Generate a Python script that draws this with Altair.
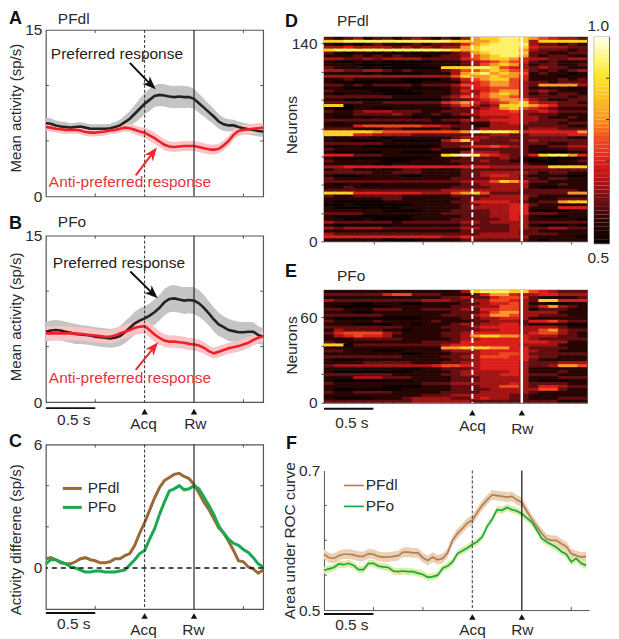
import altair as alt
import pandas as pd

FONT = "Liberation Sans"
t_ac = [-1.0,-.95,-.9,-.85,-.8,-.75,-.7,-.65,-.6,-.55,-.5,-.45,-.4,-.35,-.3,-.25,-.2,-.15,-.1,-.05,0,.05,.1,.15,.2,.25,.3,.35,.4,.45,.5,.55,.6,.65,.7,.75,.8,.85,.9,.95,1.0,1.05,1.1,1.15,1.2]
t_f = [-1.5,-1.45,-1.4,-1.35,-1.3,-1.25,-1.2,-1.15,-1.1,-1.05]+t_ac[:-1]

a_pref = [6.6,6.55,6.4,6.3,6.25,6.2,6.25,6.3,6.2,6.1,6.1,6.1,6.1,6.15,6.25,6.4,6.7,7.0,7.45,7.9,8.35,8.7,9.05,9.15,9.1,9.0,8.95,9.0,8.95,8.95,8.8,8.4,8.0,7.6,7.2,6.75,6.5,6.4,6.4,6.25,6.15,6.05,6.0,5.9,5.85]
a_anti = [6.25,6.2,6.1,6.05,6.0,6.0,6.0,5.95,5.8,5.75,5.75,5.8,5.85,5.95,6.0,6.1,6.2,6.15,6.0,5.85,5.75,5.5,5.25,4.95,4.65,4.5,4.45,4.5,4.55,4.55,4.55,4.45,4.35,4.25,4.2,4.3,4.6,5.0,5.55,5.9,6.0,6.05,6.1,6.15,6.2]
a_pref_err = [.5,.5,.45,.45,.45,.4,.4,.4,.4,.4,.4,.4,.4,.4,.45,.5,.6,.7,.8,.9,.95,1.0,1.0,1.0,1.0,1.0,1.0,1.0,1.0,.95,.9,.85,.8,.75,.7,.65,.6,.55,.5,.5,.5,.5,.5,.5,.5]
a_anti_err = [.35,.35,.35,.35,.35,.35,.35,.35,.35,.35,.35,.35,.35,.35,.35,.35,.35,.35,.4,.4,.45,.5,.5,.5,.5,.45,.45,.45,.45,.45,.45,.45,.45,.45,.45,.45,.45,.45,.45,.45,.45,.45,.45,.45,.45]
b_pref = [6.35,6.45,6.5,6.45,6.35,6.25,6.15,6.1,6.05,6.0,5.9,5.85,5.8,5.75,5.8,5.95,6.3,6.7,7.1,7.35,7.55,7.8,8.1,8.5,9.0,9.3,9.35,9.25,9.15,9.2,9.15,8.9,8.5,8.0,7.45,7.0,6.75,6.5,6.4,6.3,6.3,6.35,6.35,6.05,5.9]
b_anti = [6.2,6.2,6.2,6.2,6.2,6.2,6.15,6.15,6.1,6.05,6.0,5.95,5.9,5.9,6.0,6.2,6.35,6.5,6.7,6.8,6.85,6.5,6.1,5.8,5.55,5.45,5.45,5.4,5.35,5.25,5.2,5.1,4.9,4.6,4.4,4.55,4.7,4.85,4.95,5.05,5.2,5.35,5.6,5.8,5.95]
b_pref_err = [.9,.9,.9,.9,.9,.9,.9,.85,.85,.85,.85,.85,.85,.85,.85,.9,1.0,1.0,1.05,1.1,1.1,1.1,1.15,1.15,1.2,1.2,1.2,1.2,1.2,1.2,1.2,1.2,1.15,1.1,1.1,1.05,1.0,1.0,.95,.95,.9,.9,.85,.8,.75]
b_anti_err = [.65,.65,.65,.65,.65,.65,.6,.6,.6,.6,.6,.6,.6,.6,.6,.6,.6,.65,.65,.65,.65,.65,.65,.6,.6,.55,.55,.55,.55,.55,.55,.55,.55,.5,.5,.5,.5,.5,.5,.5,.5,.5,.5,.5,.5]
c_pfdl = [.45,.5,.4,.25,.2,.2,.3,.45,.5,.4,.35,.25,.25,.3,.45,.45,.6,.7,1.1,1.7,2.2,2.8,3.4,3.9,4.25,4.4,4.55,4.6,4.45,4.35,4.05,3.65,3.2,2.85,2.4,1.95,1.7,1.3,.85,.35,.3,.05,-.05,-.25,-.1]
c_pfo = [.2,.4,.4,.3,.2,.05,0,-.1,-.2,-.2,-.15,-.15,-.2,-.2,-.2,-.15,-.1,.15,.4,.7,.85,1.4,1.9,2.6,3.2,3.75,3.85,4.0,3.8,3.85,4.0,3.85,3.45,3.05,2.6,2.05,1.7,1.4,1.2,1.1,.9,.75,.5,.2,.05]
f_pfdl = [.58,.575,.574,.578,.58,.58,.579,.577,.577,.581,.58,.577,.576,.576,.577,.578,.583,.583,.582,.582,.575,.571,.576,.572,.574,.582,.6,.61,.617,.625,.629,.64,.65,.658,.665,.664,.663,.662,.663,.658,.654,.642,.63,.62,.61,.602,.6,.6,.595,.591,.581,.578,.576,.577]
f_pfo = [.557,.559,.561,.566,.565,.567,.564,.558,.558,.567,.567,.563,.562,.561,.556,.555,.556,.555,.555,.553,.551,.547,.548,.55,.56,.563,.569,.581,.585,.589,.594,.598,.605,.62,.63,.644,.643,.647,.644,.642,.638,.632,.626,.615,.603,.598,.594,.59,.584,.58,.569,.574,.567,.564]
f_pfdl_err = .007
f_pfo_err = .005

heat_d = """
212312212321213 677887 654332
778888888888877 667887 377777
101012111212224 678888 322121
334333323232336 788887 433322
788888888888876 788886 322212
210110101011123 678887 221122
111212121101223 567886 212211
332232333322224 567764 332233
100101000001112 345654 212111
111000000011112 356763 122112
211101000000777 887543 232211
332233212111235 567654 212123
111101000011136 786765 121101
333333333333357 667664 111011
112111110000124 567754 111212
100000000011113 456653 221222
221212222122235 456653 266663
110000001000123 445553 111100
211110000111124 345663 232111
101111000011123 356763 121221
222222211111235 456653 222212
110000000000122 345665 321122
222211222222456 434567 433221
770111111111235 323777 654222
100110011111122 234675 432111
211233322211222 344453 343222
111222232112123 344443 222111
100101111010011 233343 321121
222222222221223 334443 322211
101111111111112 113343 222122
111455555544322 113332 222211
222111221111212 233332 333222
777776555555556 988874 444446
777443333222222 223322 333344
111111011111123 332222 222211
100000100000357 322232 322222
222222111111222 222222 221122
101100000000223 445432 112233
211111111112111 222222 111122
100000110000113 333222 100011
444222111111789 854322 478864
100000000001112 222321 010001
211111000111122 232211 000112
111110011111112 222222 110011
334444444444444 443333 337777
122111112211112 222222 222222
222221122211112 233333 212211
100011110011112 234432 111100
211111111111122 223332 212211
222222222222223 335764 221111
101100111111112 233333 111211
112111111111122 223333 100111
222222222222333 333332 222221
777444444433356 752222 222266
211222221111122 223333 211111
111111221111112 233333 111222
100000111111122 444432 122677
001000000111112 233344 211111
100000001111112 333344 111444
111111000011122 223344 000011
222211111111222 223344 222111
100000000111112 223343 100011
110010000111122 222343 111110
322222212222223 323333 222222
100000011111112 222233 100010
323333222222223 322233 223322
111111111111112 222232 211111
322222222222222 233332 222111
444444444444334 333333 111110
111111000011112 222222 101111
""".split("\n")[1:-1]

heat_e = """
111111111111113 788877 543222
222222455222111 246643 344333
111111111111223 224554 211112
322222222233322 335543 277444
111001110011112 234453 110011
100000011111122 333553 246321
221112221122223 244553 122211
111001111111122 235663 333111
222222111111222 346653 322211
100000000011112 233443 111111
211112111112111 223332 445322
111000011011123 233442 111100
222222221111222 344443 333211
132222110111122 233443 356322
245555321111223 444443 455321
134544311111223 677664 333221
111222221111123 344444 322222
211111111122224 444444 443311
770222222222344 444443 333111
111111111111667 776644 222211
221110001111233 344444 322111
111111110011122 344554 222222
222222221111223 355544 322111
100011111111122 344444 211111
111122222111223 344443 222333
233333333334554 344443 223665
111111110011222 344443 111111
100000000111123 333343 111211
222222211111223 333443 222111
111333222111122 233333 111222
100000000111122 233333 100011
211111111122233 333343 222211
111111000011122 233553 244322
100000001111122 223333 355211
211222211111222 233333 211111
111111111122233 333322 111111
100001112333322 343322 111222
222222222333333 222222 222111
""".split("\n")[1:-1]

digit_levels = [.5,.54,.59,.64,.69,.74,.8,.87,.93,1.0]
cb_levels = [.5,.51,.52,.53,.54,.55,.56,.57,.58,.59,.6,.61,.62,.63,.64,.65,.66,.67,.68,.69,.7,.71,.72,.73,.74,.75,.76,.77,.78,.79,.8,.81,.82,.83,.84,.85,.86,.87,.88,.89,.9,.91,.92,.93,.94,.95,.96,.97,.98,.99]
cmap_dom = [.5,.55,.6,.65,.7,.75,.8,.85,.9,.95,1.0]
cmap_rng = ["#0c0000","#2c0504","#701010","#b01515","#e6201c","#ee5020","#f69a2c","#fbc424","#ffe61e","#fff68c","#fffff4"]

DARK = "#2a2a2a"
GREY = "#555555"
one = pd.DataFrame({"a": [0]})

def txt(s, x, y, size=15.5, color=DARK, weight="normal", align="left"):
    return alt.Chart(one).mark_text(text=s, fontSize=size, font=FONT, color=color, fontWeight=weight, align=align, baseline="middle").encode(x=alt.value(x), y=alt.value(y))

NOAX = alt.Axis(title=None, labels=False, ticks=False, domain=False, grid=False)

def X(dom, field="t", axis=NOAX):
    return alt.X(f"{field}:Q", scale=alt.Scale(domain=dom, nice=False), axis=axis)

def yaxis(title, values, show, tx, ty, fmt=None, ticks=0, domain=False, tsize=15.5):
    expr = " || ".join(f"datum.value == {v}" for v in show)
    kw = dict(title=title, values=values, labelExpr=f"({expr}) ? datum.label : ''", tickSize=ticks, ticks=ticks > 0, tickColor=GREY,
              domain=domain, domainColor=GREY, grid=False, labelFont=FONT, labelFontSize=15.5, labelColor=DARK, labelPadding=4,
              titleFont=FONT, titleFontSize=tsize, titleFontWeight="normal", titleColor=DARK, titleX=tx, titleY=ty)
    if fmt:
        kw["format"] = fmt
    return alt.Axis(**kw)

def Y(dom, axis, field="v"):
    return alt.Y(f"{field}:Q", scale=alt.Scale(domain=dom, nice=False), axis=axis)

def inner_ticks(xdom, ydom, ax, h, w, xs, ys, both=True):
    layers = []
    dx = pd.DataFrame({"t": xs})
    dy = pd.DataFrame({"v": ys})
    c = alt.Chart(dx).mark_rule(color=GREY, strokeWidth=1)
    layers.append(c.encode(x=X(xdom), y=alt.value(h), y2=alt.value(h - 3)))
    c2 = alt.Chart(dy).mark_rule(color=GREY, strokeWidth=1)
    layers.append(c2.encode(y=Y(ydom, ax), x=alt.value(0), x2=alt.value(3)))
    if both:
        layers.append(c.encode(x=X(xdom), y=alt.value(0), y2=alt.value(3)))
        layers.append(c2.encode(y=Y(ydom, ax), x=alt.value(w), x2=alt.value(w - 3)))
    return layers

def vlines(xdom, color=DARK, dash_w=1, solid_w=1.2):
    l1 = alt.Chart(pd.DataFrame({"t": [0.0]})).mark_rule(color=color, strokeDash=[3, 2], strokeWidth=dash_w).encode(x=X(xdom))
    l2 = alt.Chart(pd.DataFrame({"t": [0.5]})).mark_rule(color=color, strokeWidth=solid_w).encode(x=X(xdom))
    return [l1, l2]

def events(xdom, h, bar_y, bar_x, s_y, s_x, tri_y, acq_y, rw_y):
    out = []
    out.append(alt.Chart(pd.DataFrame({"t": [bar_x[0]], "t2": [bar_x[1]]})).mark_rule(color="#111", strokeWidth=2).encode(x=X(xdom), x2="t2:Q", y=alt.value(h + bar_y)))
    out.append(txt("0.5 s", s_x, h + s_y, align="center"))
    out.append(alt.Chart(pd.DataFrame({"t": [0.0, 0.5]})).mark_point(shape="triangle-up", filled=True, size=42, color="#111", opacity=1).encode(x=X(xdom), y=alt.value(h + tri_y)))
    return out

def mean_band(t, m, e, xdom, ydom, ax, band):
    d = pd.DataFrame({"t": t, "v": m})
    d["lo"] = [a - b for a, b in zip(m, e)]
    d["hi"] = [a + b for a, b in zip(m, e)]
    return alt.Chart(d).mark_area(color=band, opacity=1).encode(x=X(xdom), y=Y(ydom, ax, "lo"), y2="hi:Q")

def mean_line(t, m, xdom, ydom, ax, color, w):
    d = pd.DataFrame({"t": t, "v": m})
    return alt.Chart(d).mark_line(color=color, strokeWidth=w).encode(x=X(xdom), y=Y(ydom, ax))

HEAD = "M0,-1L0.75,0.9L0,0.35L-0.75,0.9Z"
def arrow(tail, head, angle, color, xdom, ydom, ax):
    d = pd.DataFrame({"t": [tail[0]], "t2": [head[0]], "v": [tail[1]], "v2": [head[1]]})
    shaft = alt.Chart(d).mark_rule(color=color, strokeWidth=2).encode(x=X(xdom), x2="t2:Q", y=Y(ydom, ax), y2="v2:Q")
    hd = alt.Chart(pd.DataFrame({"t": [head[0]], "v": [head[1]]})).mark_point(shape=HEAD, filled=True, size=200, color=color, opacity=1, angle=angle).encode(x=X(xdom), y=Y(ydom, ax))
    return [shaft, hd]

XDOM = [-1.0, 1.2]
W, HA = 218, 167
RED = "#ee2028"
BLK = "#222222"

def ab_panel(pref, anti, perr, aerr, letter, name, ty, pref_xy, anti_xy, ah_b, ah_r, letter_y, name_y, extra=None):
    dom = [0, 15]
    ax = yaxis("Mean activity (sp/s)", [0, 5, 10, 15], [0, 15], -22, ty, tsize=15)
    layers = [mean_band(t_ac, pref, perr, XDOM, dom, ax, "#c4c4c4"),
              mean_band(t_ac, anti, aerr, XDOM, dom, ax, "#f9c4c6"),
              mean_line(t_ac, pref, XDOM, dom, ax, BLK, 2.6),
              mean_line(t_ac, anti, XDOM, dom, ax, RED, 2.6)]
    layers += vlines(XDOM)
    layers += inner_ticks(XDOM, dom, ax, HA, W, [-.5, 1.0], [5, 10])
    layers += [txt("Preferred response", pref_xy[0], pref_xy[1], color="#222"),
               txt("Anti-preferred response", anti_xy[0], anti_xy[1], color="#e8323c")]
    layers += arrow(ah_b[0], ah_b[1], ah_b[2], "#111", XDOM, dom, ax)
    layers += arrow(ah_r[0], ah_r[1], ah_r[2], "#ee2a30", XDOM, dom, ax)
    layers += [txt(letter, -37, letter_y, size=18, color="#111", weight="bold"), txt(name, 12, name_y)]
    if extra:
        layers += extra
    return alt.layer(*layers).properties(width=W, height=HA)

panel_a = ab_panel(a_pref, a_anti, a_pref_err, a_anti_err, "A", "PFdl", 78, (5, 24), (3, 153),
                   ((-.15, 12.04), (.06, 10.1), 134), ((-.09, 1.89), (.08, 3.9), 38), -10.7, -10.5)
ev_b = events(XDOM, HA, 6, (-1.0, -.5), 18, 28, 9.5, 22, 22) + [txt("Acq", 98, HA + 22, align="center"), txt("Rw", 150, HA + 22, align="center")]
panel_b = ab_panel(b_pref, b_anti, b_pref_err, b_anti_err, "B", "PFo", 81, (7, 27), (3, 143),
                   ((-.145, 11.77), (.08, 9.8), 133), ((-.09, 2.9), (.09, 4.9), 40), -12, -14, ev_b)

# C
HC = 165
dc = [-2, 6]
axc = yaxis("Activity differene (sp/s)", [-2, 0, 2, 4, 6], [0, 6], -22, 95, tsize=15)
c_layers = [mean_line(t_ac, c_pfdl, XDOM, dc, axc, "#9a6a36", 3), mean_line(t_ac, c_pfo, XDOM, dc, axc, "#1aa950", 3)]
c_layers += vlines(XDOM)
c_layers.append(alt.Chart(pd.DataFrame({"v": [0]})).mark_rule(color="#111", strokeDash=[5, 4], strokeWidth=1.6).encode(y=Y(dc, axc)))
c_layers += inner_ticks(XDOM, dc, axc, HC, W, [-.5, 1.0], [2, 4])
c_layers += [alt.Chart(one).mark_rule(color="#9a6a36", strokeWidth=3).encode(x=alt.value(17), x2=alt.value(36), y=alt.value(44)),
             alt.Chart(one).mark_rule(color="#1aa950", strokeWidth=3).encode(x=alt.value(17), x2=alt.value(36), y=alt.value(63)),
             txt("PFdl", 42, 44), txt("PFo", 42, 63)]
c_layers += events(XDOM, HC, 4, (-1.0, -.5), 15, 28, 7, 21, 21)
c_layers += [txt("Acq", 98, HC + 21, align="center"), txt("Rw", 148, HC + 21, align="center"), txt("C", -37, -3, size=18, color="#111", weight="bold")]
panel_c = alt.layer(*c_layers).properties(width=W, height=HC)

# Heat maps
def heat_df(rows, xdom, ymax):
    rec = []
    step = (xdom[1] - xdom[0]) / 27
    n = len(rows)
    for k, row in enumerate(rows):
        for i, ch in enumerate(row.replace(" ", "")):
            rec.append({"x0": xdom[0] + i * step, "x1": min(xdom[1], xdom[0] + (i + 1.15) * step),
                        "y1": ymax * (n - k) / n, "y0": max(0, ymax * (n - k - 1.2) / n), "z": digit_levels[int(ch)]})
    return pd.DataFrame(rec)

HDOM = [-1.5, 1.16]
hx_axis = alt.Axis(title=None, labels=False, values=[-1.0, -.5, 0, .5, 1.0], tickSize=3, tickColor=GREY, domain=False, grid=False)
color = alt.Color("z:Q", scale=alt.Scale(domain=cmap_dom, range=cmap_rng), legend=None)

def heat_panel(rows, ymax, ax, w, h, letter, lx, ly, name, ny, extra):
    r = alt.Chart(heat_df(rows, HDOM, ymax)).mark_rect(strokeWidth=0).encode(
        x=X(HDOM, "x0", hx_axis), x2="x1:Q", y=Y([0, ymax], ax, "y0"), y2="y1:Q", color=color)
    d1 = alt.Chart(pd.DataFrame({"t": [0.0]})).mark_rule(color="white", strokeDash=[5, 3], strokeWidth=2).encode(x=X(HDOM, "t", hx_axis))
    d2 = alt.Chart(pd.DataFrame({"t": [0.5]})).mark_rule(color="white", strokeWidth=2.5).encode(x=X(HDOM, "t", hx_axis))
    return alt.layer(r, d1, d2, txt(letter, lx, ly, size=18, color="#111", weight="bold"), txt(name, 13, ny), *extra).properties(width=w, height=h)

axd = yaxis("Neurons", [0, 20, 40, 60, 80, 100, 120, 140], [0, 140], -25, 88, ticks=3)
panel_d = heat_panel(heat_d, 144.5, axd, 264, 205, "D", -39, -15, "PFdl", -16, [])
axe = yaxis("Neurons", [0, 20, 40, 60], [0, 60], -25, 55, ticks=3)
ev_e = events(HDOM, 113, 6, (-1.5, -1.0), 20, 28, 10, 23, 26) + [txt("Acq", 149, 113 + 23, align="center"), txt("Rw", 199, 113 + 26, align="center")]
panel_e = heat_panel(heat_e, 79, axe, 264, 113, "E", -39, -18, "PFo", -14, ev_e)

# Colour bar
cb = pd.DataFrame({"lo": cb_levels, "hi": [round(v + .01, 2) for v in cb_levels]})
cb["z"] = cb["lo"]
cb_y = alt.Y("lo:Q", scale=alt.Scale(domain=[.5, 1.0], nice=False), axis=None)
panel_cb = alt.layer(
    alt.Chart(cb).mark_rect(strokeWidth=0).encode(x=alt.value(0), x2=alt.value(15), y=cb_y, y2="hi:Q", color=color),
    alt.Chart(pd.DataFrame({"lo": [.6, .7, .8, .9]})).mark_rule(color="#333", strokeWidth=1).encode(x=alt.value(12), x2=alt.value(15), y=cb_y),
    txt("1.0", 15, -11, align="right"),
    txt("0.5", 15, 222, align="right"),
).properties(width=15, height=207)

# F
WF, HF = 266, 140
FDOM = [-1.5, 1.18]
dfy = [.5, .7]
axf = yaxis("Area under ROC curve", [.5, .55, .6, .65, .7], [.5, .7], -27, 70, fmt=".1f", domain=True)
fx_axis = alt.Axis(title=None, labels=False, ticks=False, domain=True, domainColor=GREY, grid=False)
def XF(): return X(FDOM, "t", fx_axis)
def fband(m, e, col):
    d = pd.DataFrame({"t": t_f, "lo": [a - e for a in m], "hi": [a + e for a in m]})
    return alt.Chart(d).mark_area(color=col, opacity=1).encode(x=XF(), y=Y(dfy, axf, "lo"), y2="hi:Q")
def fline(m, col):
    return alt.Chart(pd.DataFrame({"t": t_f, "v": m})).mark_line(color=col, strokeWidth=1.7).encode(x=XF(), y=Y(dfy, axf))
f_layers = [fband(f_pfdl, f_pfdl_err, "#ecd0b4"), fband(f_pfo, f_pfo_err, "#dcec9c"), fline(f_pfdl, "#b08058"), fline(f_pfo, "#16a84e")]
f_layers += [alt.Chart(pd.DataFrame({"t": [0.0]})).mark_rule(color="#555", strokeDash=[3, 2], strokeWidth=1.2).encode(x=XF()),
             alt.Chart(pd.DataFrame({"t": [0.5]})).mark_rule(color="#111", strokeWidth=1.2).encode(x=XF())]
f_layers += inner_ticks(FDOM, dfy, axf, HF, WF, [-1.0, -.5, 1.0], [.55, .6, .65], both=False)
f_layers += [alt.Chart(one).mark_rule(color="#b08058", strokeWidth=1.7).encode(x=alt.value(20), x2=alt.value(40), y=alt.value(15)),
             alt.Chart(one).mark_rule(color="#16a84e", strokeWidth=1.7).encode(x=alt.value(20), x2=alt.value(40), y=alt.value(36)),
             txt("PFdl", 42, 15), txt("PFo", 42, 36)]
f_layers += events(FDOM, HF, 4, (-1.5, -1.0), 15, 28, 7, 20, 20)
f_layers += [txt("Acq", 149, HF + 20, align="center"), txt("Rw", 199, HF + 20, align="center"), txt("F", -38, -27, size=18, color="#111", weight="bold")]
panel_f = alt.layer(*f_layers).properties(width=WF, height=HF, view=alt.ViewBackground(stroke="transparent"))

spacer = alt.Chart(one).mark_text(text="", opacity=0).encode(x=alt.value(0), y=alt.value(0)).properties(width=1, height=1, view=alt.ViewBackground(stroke="transparent"))

left = alt.vconcat(alt.vconcat(panel_a, panel_b, spacing=7.4), panel_c, spacing=-2)
d_row = alt.hconcat(panel_d, panel_cb, spacing=-2)
right = alt.vconcat(spacer, alt.vconcat(d_row, alt.vconcat(panel_e, panel_f, spacing=-5), spacing=-6), spacing=-24)

chart = alt.hconcat(left, right, spacing=11).properties(padding=0).configure_view(stroke=GREY, strokeWidth=1.2).configure_concat(spacing=0)

chart.save("out.html", embed_options={"renderer": "svg", "actions": False})
